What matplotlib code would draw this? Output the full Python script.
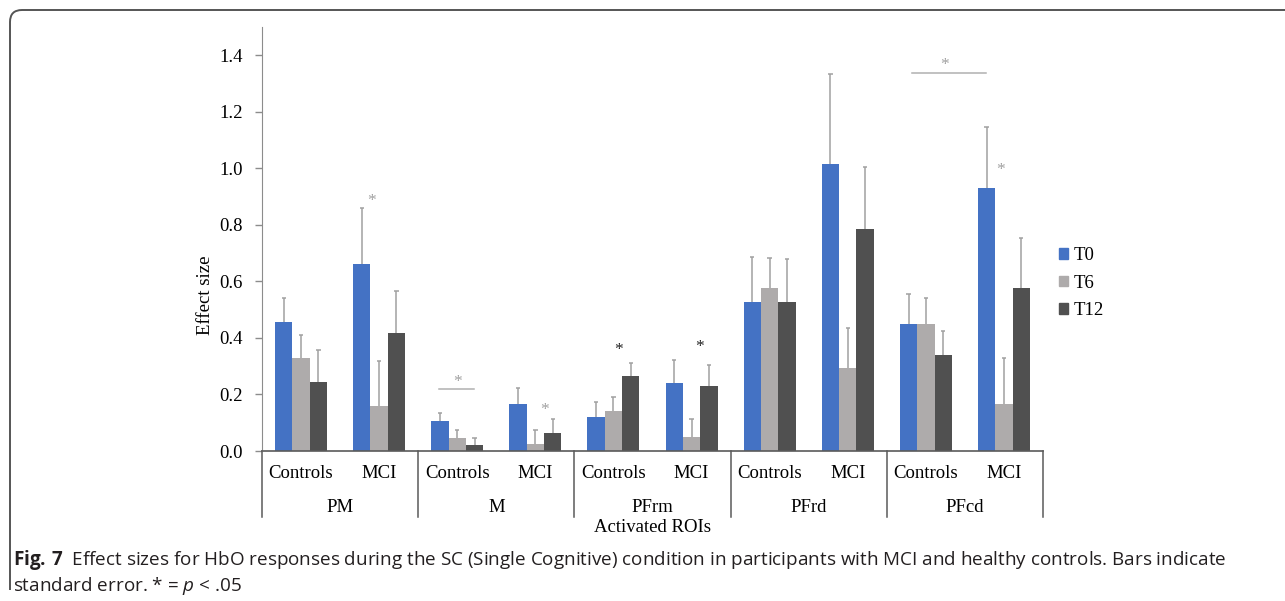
import matplotlib
matplotlib.use("Agg")
import matplotlib.pyplot as plt
import matplotlib.transforms as mtransforms
from matplotlib.path import Path
from matplotlib.patches import PathPatch, Patch
import numpy as np

# ROI groups, participant groups and time points
regions = ["PM", "M", "PFrm", "PFrd", "PFcd"]
groups = ["Controls", "MCI"]
series = ["T0", "T6", "T12"]

# effect sizes per ROI x group (Controls, MCI alternating)
t0 = [0.457, 0.663, 0.107, 0.167, 0.122, 0.239, 0.528, 1.017, 0.448, 0.932]
t6 = [0.330, 0.160, 0.046, 0.024, 0.141, 0.049, 0.575, 0.292, 0.448, 0.165]
t12 = [0.243, 0.418, 0.020, 0.062, 0.266, 0.231, 0.528, 0.787, 0.339, 0.575]

# standard errors (upper bars only)
t0_se = [0.083, 0.195, 0.028, 0.057, 0.050, 0.082, 0.160, 0.318, 0.108, 0.215]
t6_se = [0.080, 0.158, 0.028, 0.049, 0.050, 0.063, 0.108, 0.144, 0.092, 0.165]
t12_se = [0.114, 0.148, 0.027, 0.052, 0.047, 0.075, 0.150, 0.218, 0.086, 0.179]

# significance stars: (x, y, colour) and brackets (x0, x1, y)
stars = [(0.90, 0.884, "#a0a0a0"), (3.12, 0.145, "#a0a0a0"),
         (4.06, 0.359, "#222222"), (5.10, 0.367, "#222222"),
         (8.95, 0.995, "#a0a0a0"), (2.01, 0.244, "#a0a0a0"),
         (8.24, 1.367, "#a0a0a0")]
brackets = [(1.76, 2.21, 0.219), (7.82, 8.77, 1.337)]

colors = ["#4472C4", "#AEABAB", "#505050"]
err_color = "#a0a0a0"

W, H = 1285, 601
fig = plt.figure(figsize=(W / 100, H / 100), dpi=100)
plt.rcParams["font.family"] = "Liberation Serif"

def fx(px):
    return px / W

def fy(py):
    return 1 - py / H

ax = fig.add_axes([fx(262), fy(451), fx(1043) - fx(262), fy(27) - fy(451)])

x = np.arange(len(t0))
w = 0.222
for k, (vals, se) in enumerate(zip([t0, t6, t12], [t0_se, t6_se, t12_se])):
    pos = x + (k - 1) * w
    ax.bar(pos, vals, width=w, color=colors[k], zorder=2)
    tops = np.array(vals) + np.array(se)
    ax.vlines(pos, vals, tops, color=err_color, lw=1.1, zorder=3)
    ax.hlines(tops, pos - 0.028, pos + 0.028, color=err_color, lw=1.1, zorder=3)

for sx, sy, c in stars:
    ax.text(sx, sy, "*", color=c, ha="center", va="center", fontsize=12.5)
for x0, x1, by in brackets:
    ax.plot([x0, x1], [by, by], color="#b0b0b0", lw=1.1)

ax.set_xlim(-0.5, len(t0) - 0.5)
ax.set_ylim(0, 1.5)
ax.set_yticks(np.arange(0, 1.41, 0.2))
ax.set_yticklabels([f"{v:.1f}" for v in np.arange(0, 1.41, 0.2)])
ax.set_xticks([])
ax.tick_params(axis="y", direction="out", length=5, width=1, color="#8c8c8c",
               pad=9, labelsize=13.5)
for s in ["top", "right"]:
    ax.spines[s].set_visible(False)
ax.spines["left"].set_color("#8c8c8c")
ax.spines["bottom"].set_color("#5a5a5a")
ax.spines["bottom"].set_linewidth(1.2)

ax.set_ylabel("Effect size", fontsize=13.5)
ax.yaxis.set_label_coords(-0.062, 0.368)

# two-level category axis below the bars
trans = mtransforms.blended_transform_factory(ax.transData, ax.transAxes)
for i in range(len(regions) + 1):
    ax.plot([2 * i - 0.5, 2 * i - 0.5], [0, -0.156], color="#5a5a5a", lw=1.1,
            transform=trans, clip_on=False)
for i in x:
    ax.text(i, -0.052, groups[i % 2], transform=trans, ha="center", va="center",
            fontsize=13.5)
for i, r in enumerate(regions):
    ax.text(2 * i + 0.5, -0.134, r, transform=trans, ha="center", va="center",
            fontsize=13.5)
ax.text(4.5, -0.18, "Activated ROIs", transform=trans, ha="center", va="center",
        fontsize=13.5)

handles = [Patch(color=c) for c in colors]
fig.legend(handles, series, loc="center left", bbox_to_anchor=(fx(1059), fy(283)),
           frameon=False, fontsize=13.5, handlelength=0.5, handleheight=0.5,
           handletextpad=0.3, labelspacing=0.55, borderaxespad=0, borderpad=0)

# caption
plt.rcParams["mathtext.fontset"] = "custom"
plt.rcParams["mathtext.rm"] = "Open Sans"
plt.rcParams["mathtext.bf"] = "Open Sans:bold"
plt.rcParams["mathtext.it"] = "Open Sans:italic"
cap1 = (r"$\mathbf{Fig.\,7}$  Effect sizes for HbO responses during the SC (Single Cognitive) "
        "condition in participants with MCI and healthy controls. Bars indicate")
cap2 = r"standard error. * = $\mathit{p}$ < .05"
fig.text(fx(13), fy(560), cap1, family="Open Sans", fontsize=13.6, color="#231f20",
         va="center")
fig.text(fx(13), fy(586), cap2, family="Open Sans", fontsize=13.6, color="#231f20",
         va="center")

# rounded frame around the figure panel
pts = [(10, 590), (10, 22), (10, 10), (22, 10), (1285, 10)]
codes = [Path.MOVETO, Path.LINETO, Path.CURVE3, Path.CURVE3, Path.LINETO]
frame = Path([(fx(a), fy(b)) for a, b in pts], codes)
fig.patches.append(PathPatch(frame, transform=fig.transFigure, fill=False,
                             edgecolor="#555555", lw=1.4))

fig.savefig("out.png", dpi=100)
